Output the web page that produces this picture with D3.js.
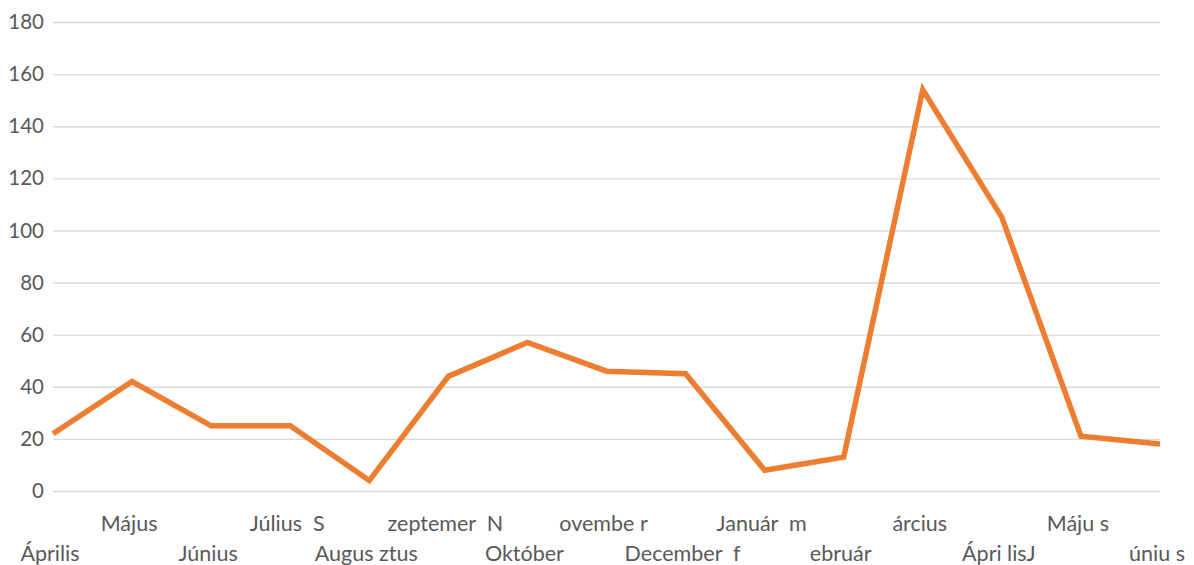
<!DOCTYPE html>
<html>
<head>
<meta charset="utf-8">
<script src="https://d3js.org/d3.v7.min.js"></script>
<style>
  body { margin: 0; background: #fff; }
  svg { display: block; font-family: Lato, "Open Sans", sans-serif; }
  .label { white-space: pre; }
</style>
</head>
<body>
<div id="chart"></div>
<script>
(function() {
  // months of the series (Április .. Június of the next year)
  var months = ["Április", "Május", "Június", "Július", "Augusztus", "Szeptember", "Október",
                "November", "December", "Január", "Február", "Március", "Április", "Május", "Június"];
  var values = [22, 42, 25, 25, 4, 44, 57, 46, 45, 8, 13, 154, 105, 21, 18];
  // labels as they are printed under the axis
  var tickLabels = ["Április", "Május", "Június", "Július  S", "Augus ztus", "zeptemer  N", "Október",
                    "ovembe r", "December  f", "Január  m", "ebruár", "árcius", "Ápri lisJ", "Máju s", "úniu s"];
  var yTicks = [0, 20, 40, 60, 80, 100, 120, 140, 160, 180];

  var width = 1194, height = 565,
      left = 53, right = 1160, top = 22, bottom = 491;

  var svg = d3.select("#chart").append("svg")
      .attr("width", width)
      .attr("height", height);

  var x = d3.scalePoint()
      .domain(d3.range(months.length))
      .range([left, right]);

  var y = d3.scaleLinear()
      .domain([0, 180])
      .range([bottom, top]);

  // gridlines + y labels
  var yAxis = svg.append("g")
      .attr("transform", "translate(" + left + ",0)")
      .call(d3.axisLeft(y).tickValues(yTicks).tickSize(-(right - left)).tickPadding(9));
  yAxis.select(".domain").remove();
  yAxis.selectAll(".tick line")
      .attr("stroke", "#d9d9d9")
      .attr("stroke-width", 1.4);
  yAxis.selectAll(".tick text")
      .attr("fill", "#595959")
      .style("font-size", "20.5px")
      .style("font-family", "Lato, 'Open Sans', sans-serif");

  // x labels, alternating on two rows
  svg.append("g").selectAll("text")
      .data(tickLabels)
    .enter().append("text")
      .attr("class", "label")
      .attr("x", function(d, i) { return x(i) - 3; })
      .attr("y", function(d, i) { return i % 2 ? 531 : 561; })
      .attr("text-anchor", "middle")
      .attr("fill", "#595959")
      .style("font-size", "21.5px")
      .text(function(d) { return d; });

  var line = d3.line()
      .x(function(d, i) { return x(i); })
      .y(function(d) { return y(d); });

  svg.append("path")
      .datum(values)
      .attr("fill", "none")
      .attr("stroke", "#ED7D31")
      .attr("stroke-width", 5.5)
      .attr("stroke-linejoin", "miter")
      .attr("d", line);
})();
</script>
</body>
</html>
